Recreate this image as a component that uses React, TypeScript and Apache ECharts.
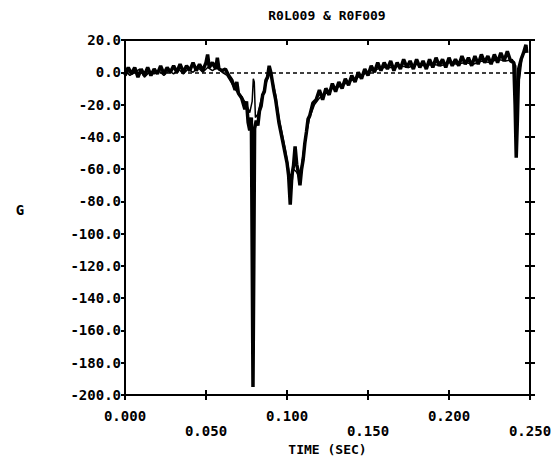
import React, { useEffect, useRef } from "react";
import * as echarts from "echarts";

const chartTitle = "R0L009 & R0F009";
const xAxisTitle = "TIME (SEC)";
const yAxisTitle = "G";

// Trace 1 (R0L009): time (s) and acceleration (G)
const t1 = [
  0.000, 0.002, 0.004, 0.006, 0.008, 0.010, 0.012, 0.014, 0.016, 0.018,
  0.020, 0.022, 0.024, 0.026, 0.028, 0.030, 0.032, 0.034, 0.036, 0.038,
  0.040, 0.042, 0.044, 0.046, 0.048, 0.050, 0.051, 0.052, 0.054, 0.056,
  0.057, 0.058, 0.060, 0.062, 0.064, 0.066, 0.068, 0.069, 0.070, 0.072,
  0.074, 0.075, 0.076, 0.077, 0.078, 0.0785, 0.079, 0.0795, 0.080, 0.081,
  0.082, 0.083, 0.084, 0.085, 0.086, 0.087, 0.088, 0.089, 0.090, 0.091,
  0.092, 0.093, 0.094, 0.095, 0.096, 0.097, 0.098, 0.099, 0.100, 0.101,
  0.102, 0.103, 0.104, 0.105, 0.106, 0.107, 0.108, 0.109, 0.110, 0.111,
  0.112, 0.113, 0.114, 0.116, 0.118, 0.120, 0.122, 0.124, 0.126, 0.128,
  0.130, 0.132, 0.134, 0.136, 0.138, 0.140, 0.142, 0.144, 0.146, 0.148,
  0.150, 0.152, 0.154, 0.156, 0.158, 0.160, 0.162, 0.164, 0.166, 0.168,
  0.170, 0.172, 0.174, 0.176, 0.178, 0.180, 0.182, 0.184, 0.186, 0.188,
  0.190, 0.192, 0.194, 0.196, 0.198, 0.200, 0.202, 0.204, 0.206, 0.208,
  0.210, 0.212, 0.214, 0.216, 0.218, 0.220, 0.222, 0.224, 0.226, 0.228,
  0.230, 0.232, 0.234, 0.236, 0.238, 0.240, 0.2408, 0.2415, 0.2422, 0.2430,
  0.2445, 0.246, 0.2475, 0.248,
];
const g1 = [
  -2, 3, -1, 3, -3, 2, -2, 3, -2, 2,
  -1, 4, -1, 3, 0, 4, 0, 5, 0, 4,
  1, 6, 1, 5, 1, 6, 11, 3, 6, 2,
  9, 2, 1, 2, -2, -5, -11, -6, -13, -16,
  -23, -18, -31, -36, -28, -110, -195, -120, -35, -30,
  -33, -24, -21, -14, -12, -5, -3, 4, 0, -6,
  -12, -17, -24, -31, -36, -41, -46, -51, -56, -64,
  -82, -64, -58, -46, -57, -62, -70, -60, -54, -44,
  -37, -29, -27, -19, -17, -11, -17, -10, -14, -7,
  -12, -6, -10, -4, -8, -2, -6, 0, -4, 2,
  -2, 4, 0, 6, 1, 6, 2, 7, 1, 6,
  2, 8, 3, 7, 2, 8, 3, 7, 2, 8,
  3, 9, 4, 8, 3, 9, 4, 8, 4, 10,
  5, 9, 4, 10, 5, 11, 6, 10, 5, 11,
  6, 12, 7, 13, 7, 6, -20, -53, -30, 2,
  8, 12, 17, 12,
];

// Trace 2 (R0F009)
const t2 = [
  0.000, 0.003, 0.006, 0.009, 0.012, 0.015, 0.018, 0.021, 0.024, 0.027,
  0.030, 0.033, 0.036, 0.039, 0.042, 0.045, 0.048, 0.051, 0.054, 0.057,
  0.060, 0.063, 0.066, 0.069, 0.072, 0.075, 0.077, 0.0785, 0.0792, 0.0798,
  0.0805, 0.082, 0.084, 0.086, 0.088, 0.0895, 0.091, 0.093, 0.095, 0.097,
  0.099, 0.101, 0.1025, 0.104, 0.106, 0.108, 0.110, 0.112, 0.114, 0.117,
  0.120, 0.124, 0.128, 0.132, 0.136, 0.140, 0.144, 0.148, 0.152, 0.156,
  0.160, 0.165, 0.170, 0.175, 0.180, 0.185, 0.190, 0.195, 0.200, 0.205,
  0.210, 0.215, 0.220, 0.225, 0.230, 0.235, 0.239, 0.2412, 0.2420, 0.2428,
  0.2438, 0.2450, 0.2465, 0.2478,
];
const g2 = [
  1, -2, 0, 2, -3, 0, -1, 1, -2, 1,
  -1, 2, -1, 2, 0, 3, 0, 3, 1, 3,
  0, -2, -7, -12, -15, -20, -25, -18, -4, -6,
  -28, -26, -17, -10, -4, 0, -5, -14, -28, -38,
  -48, -60, -74, -60, -62, -66, -50, -38, -28, -20,
  -16, -13, -10, -9, -7, -5, -3, -1, 1, 2,
  3, 3, 4, 3, 5, 4, 5, 4, 6, 5,
  6, 5, 7, 6, 8, 7, 8, 4, -22, -8,
  -2, 8, 14, 16,
];

const yTicksMin = -200;
const yTicksMax = 20;
const yTickStep = 20;
const xMin = 0;
const xMax = 0.25;
const xTickStep = 0.05;

const FONT = "DejaVu Sans Mono";

export default function App() {
  const ref = useRef<HTMLDivElement>(null);

  useEffect(() => {
    if (!ref.current) return;
    const chart = echarts.init(ref.current, null, { renderer: "svg" });

    const grid = { left: 125, right: 30, top: 40, bottom: 71 };
    const axisLine = { onZero: false, lineStyle: { color: "#000", width: 2 } };
    const lbl = { color: "#000", fontFamily: FONT, fontSize: 14, fontWeight: "bold" as const };
    const tickStyle = { color: "#000", width: 2 };

    const xBase = {
      type: "value" as const,
      min: xMin,
      max: xMax,
      interval: xTickStep,
      splitLine: { show: false },
      axisLine,
    };
    const yBase = {
      type: "value" as const,
      min: yTicksMin,
      max: yTicksMax,
      interval: yTickStep,
      splitLine: { show: false },
      axisLine,
    };

    chart.setOption({
      animation: false,
      backgroundColor: "#fff",
      grid,
      xAxis: [
        {
          ...xBase,
          position: "bottom",
          axisTick: { show: true, inside: false, length: 5, lineStyle: tickStyle },
          axisLabel: {
            ...lbl,
            margin: 13,
            lineHeight: 15,
            formatter: (v: number) => {
              const i = Math.round(v / xTickStep);
              const s = v.toFixed(3);
              return i % 2 === 1 ? "\n" + s : s;
            },
          },
          name: xAxisTitle,
          nameLocation: "middle",
          nameGap: 47,
          nameTextStyle: { ...lbl, fontSize: 13 },
        },
        {
          ...xBase,
          position: "bottom",
          axisTick: { show: true, inside: true, length: 5, lineStyle: tickStyle },
          axisLabel: { show: false },
        },
        {
          ...xBase,
          position: "top",
          axisTick: { show: true, inside: true, length: 5, lineStyle: tickStyle },
          axisLabel: { show: false },
        },
      ],
      yAxis: [
        {
          ...yBase,
          position: "left",
          axisTick: { show: true, inside: false, length: 4, lineStyle: tickStyle },
          axisLabel: { ...lbl, margin: 4, formatter: (v: number) => v.toFixed(1) },
        },
        {
          ...yBase,
          position: "right",
          axisTick: { show: true, inside: false, length: 5, lineStyle: tickStyle },
          axisLabel: { show: false },
        },
        {
          ...yBase,
          position: "right",
          axisTick: { show: true, inside: true, length: 5, lineStyle: tickStyle },
          axisLabel: { show: false },
        },
      ],
      graphic: [
        {
          type: "text",
          x: 327,
          y: 15,
          style: {
            text: chartTitle,
            fill: "#000",
            font: `bold 13px "${FONT}"`,
            textAlign: "center",
            textVerticalAlign: "middle",
          },
        },
        {
          type: "text",
          x: 20,
          y: 210,
          style: {
            text: yAxisTitle,
            fill: "#000",
            font: `bold 14px "${FONT}"`,
            textAlign: "center",
            textVerticalAlign: "middle",
          },
        },
      ],
      series: [
        {
          name: "R0L009",
          type: "line",
          xAxisIndex: 0,
          yAxisIndex: 0,
          data: t1.map((t, i) => [t, g1[i]]),
          showSymbol: false,
          symbol: "none",
          lineStyle: { color: "#000", width: 3.5 },
          markLine: {
            silent: true,
            symbol: "none",
            label: { show: false },
            lineStyle: { color: "#000", type: [4, 3], width: 1.5 },
            data: [{ yAxis: 0 }],
          },
        },
        {
          name: "R0F009",
          type: "line",
          xAxisIndex: 0,
          yAxisIndex: 0,
          data: t2.map((t, i) => [t, g2[i]]),
          showSymbol: false,
          symbol: "none",
          lineStyle: { color: "#000", width: 1.5 },
        },
      ],
    });

    return () => chart.dispose();
  }, []);

  return (
    <div
      ref={ref}
      style={{ position: "fixed", left: 0, top: 0, width: 560, height: 466, background: "#fff" }}
    />
  );
}
